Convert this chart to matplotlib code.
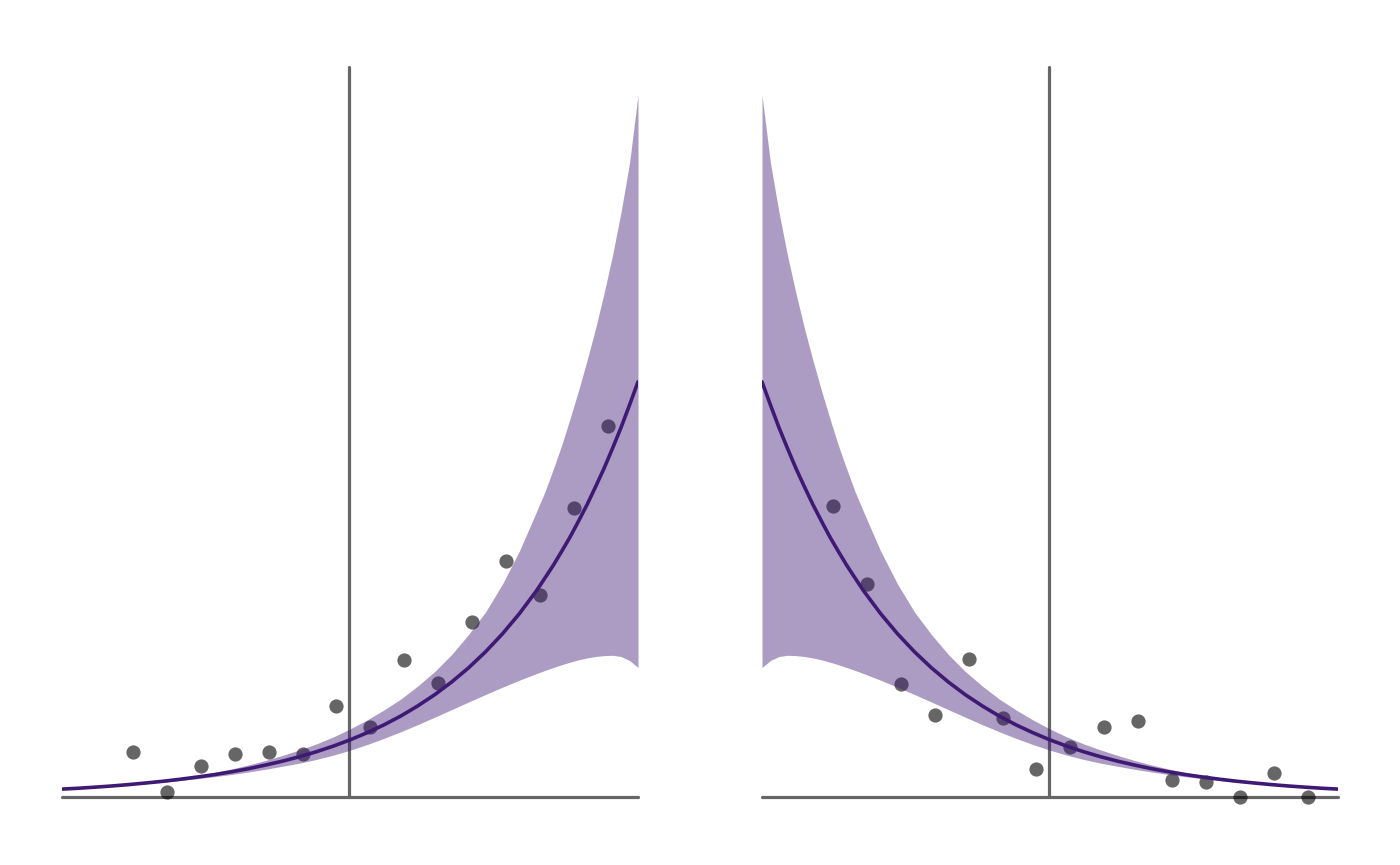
import numpy as np
import matplotlib
matplotlib.use('Agg')
import matplotlib.pyplot as plt

# x positions where the fitted curve and its band were read off
# (every 0.5 up to 14, then every 0.25 where the band bends sharply)
fit_x = np.concatenate([np.arange(0, 14, 0.5), np.arange(14, 17.25, 0.25)])
fit_mid = [0.079, 0.088, 0.099, 0.111, 0.125, 0.141, 0.158, 0.178, 0.200, 0.224,
           0.252, 0.283, 0.319, 0.358, 0.402, 0.452, 0.508, 0.571, 0.642, 0.721,
           0.810, 0.911, 1.023, 1.150, 1.292, 1.452, 1.632, 1.834,
           2.061, 2.188, 2.317, 2.458, 2.603, 2.762, 2.926, 3.104, 3.288, 3.488,
           3.695, 3.920, 4.152]
fit_hi = [0.080, 0.090, 0.102, 0.115, 0.130, 0.148, 0.168, 0.190, 0.215, 0.245,
          0.280, 0.320, 0.365, 0.415, 0.470, 0.530, 0.600, 0.680, 0.770, 0.870,
          0.980, 1.110, 1.255, 1.425, 1.625, 1.850, 2.130, 2.460,
          2.850, 3.050, 3.280, 3.520, 3.790, 4.070, 4.370, 4.690, 5.040, 5.420,
          5.850, 6.340, 7.020]
fit_lo = [0.077, 0.086, 0.096, 0.107, 0.120, 0.133, 0.148, 0.165, 0.183, 0.203,
          0.225, 0.250, 0.277, 0.307, 0.338, 0.375, 0.418, 0.468, 0.524, 0.586,
          0.653, 0.724, 0.798, 0.874, 0.950, 1.025, 1.098, 1.168,
          1.234, 1.265, 1.295, 1.323, 1.349, 1.372, 1.391, 1.405, 1.414, 1.417,
          1.405, 1.365, 1.295]

# observed points, left panel
left_x = [2.1, 3.1, 4.1, 5.1, 6.1, 7.1, 8.1, 9.1, 10.1, 11.1,
          12.1, 13.1, 14.1, 15.1, 16.1]
left_y = [0.45, 0.05, 0.31, 0.43, 0.45, 0.43, 0.91, 0.70, 1.37, 1.14,
          1.75, 2.36, 2.02, 2.89, 3.71]

# observed points, right panel (x axis runs the other way)
right_x = [14.9, 13.9, 12.9, 11.9, 10.9, 9.9, 8.9, 7.9, 6.9, 5.9,
           4.9, 3.9, 2.9, 1.9, 0.9]
right_y = [2.91, 2.13, 1.13, 0.82, 1.38, 0.79, 0.28, 0.50, 0.70, 0.76,
           0.17, 0.15, 0.00, 0.24, 0.00]

x_max = 17
x_mid = 8.47
y_top = 7.30

axis_col = '#666666'
band_col = '#3f1a75'
line_col = '#3f1a75'

fig = plt.figure(figsize=(14, 8.65), dpi=100)

panels = [
    (62 / 1400, left_x, left_y, False),
    (762 / 1400, right_x, right_y, True),
]

for left, px, py, flip in panels:
    ax = fig.add_axes([left, 68 / 865, 576 / 1400, 730 / 865])
    ax.set_xlim(0, x_max)
    ax.set_ylim(0, y_top)
    if flip:
        ax.invert_xaxis()
    ax.axis('off')

    mid = x_max - x_mid if flip else x_mid
    ax.plot([0, x_max], [0, 0], color=axis_col, lw=2.3,
            solid_capstyle='round', clip_on=False, zorder=1)
    ax.plot([mid, mid], [0, y_top], color=axis_col, lw=2.3,
            solid_capstyle='round', clip_on=False, zorder=1)

    ax.scatter(px, py, s=105, color='black', alpha=0.6, linewidths=0,
               clip_on=False, zorder=2)

    ax.fill_between(fit_x, fit_lo, fit_hi, color=band_col, alpha=0.43,
                    linewidth=0, zorder=3)
    ax.plot(fit_x, fit_mid, color=line_col, lw=2.6,
            solid_capstyle='round', zorder=4)

fig.savefig('out.png', dpi=100)
